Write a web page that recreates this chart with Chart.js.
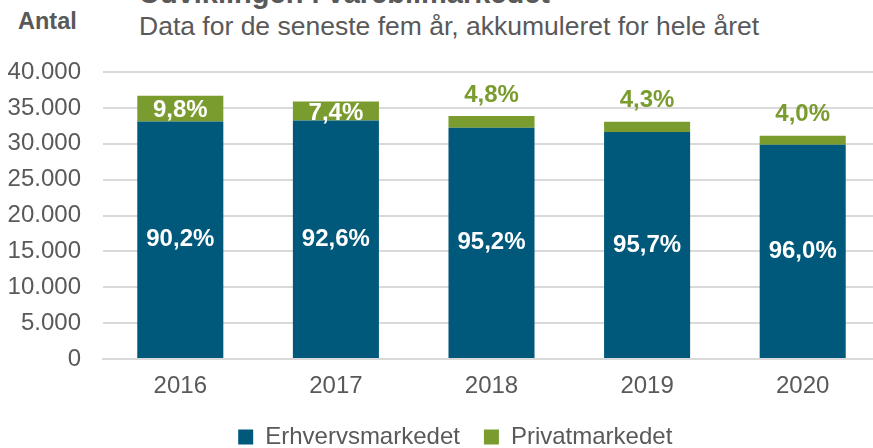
<!DOCTYPE html>
<html>
<head>
<meta charset="utf-8">
<script src="https://cdn.jsdelivr.net/npm/chart.js@4.4.0/dist/chart.umd.min.js"></script>
<style>
  html, body { margin: 0; padding: 0; width: 873px; height: 448px; overflow: hidden; background: #fff; }
  .txt { position: absolute; white-space: nowrap; line-height: 1; font-family: "Liberation Sans", Arial, sans-serif; color: #595959; }
</style>
</head>
<body>
<div class="txt" style="left:139px; top:-21px; font-size:29px; font-weight:bold;">Udviklingen i varebilmarkedet</div>
<div class="txt" style="left:18px; top:10px; font-size:23.5px; font-weight:bold;">Antal</div>
<div class="txt" style="left:139px; top:13px; font-size:26.5px;">Data for de seneste fem år, akkumuleret for hele året</div>
<canvas id="chart" width="884" height="459" style="position:absolute; left:0; top:0;"></canvas>
<script>
const years = ["2016", "2017", "2018", "2019", "2020"];
const erhverv = [33100, 33250, 32240, 31640, 29870];
const privat = [3600, 2650, 1620, 1420, 1240];
const erhvervPct = [90.2, 92.6, 95.2, 95.7, 96.0];
const privatPct = [9.8, 7.4, 4.8, 4.3, 4.0];
const yTicks = [0, 5000, 10000, 15000, 20000, 25000, 30000, 35000, 40000];

const BLUE = "#00587A";
const GREEN = "#7A9C2F";
const FONT = '"Liberation Sans", Arial, sans-serif';

Chart.defaults.font.family = FONT;
Chart.defaults.color = "#595959";

const thousands = (v) => String(v).replace(/\B(?=(\d{3})+(?!\d))/g, ".");
const pct = (p) => p.toFixed(1).replace(".", ",") + "%";

// percentage labels on top of / inside the stacked bars
const pctLabels = {
  id: "pctLabels",
  afterLayout(chart) {
    // legend sits a bit right of the canvas centre in the original
    chart.legend.left += 15;
    chart.legend.right += 15;
  },
  afterDatasetsDraw(chart) {
    const ctx = chart.ctx;
    const blue = chart.getDatasetMeta(0).data;
    const green = chart.getDatasetMeta(1).data;
    ctx.save();
    ctx.font = "bold 24px " + FONT;
    ctx.textAlign = "center";
    ctx.textBaseline = "middle";
    blue.forEach((bar, i) => {
      ctx.fillStyle = "#fff";
      ctx.fillText(pct(erhvervPct[i]), bar.x, (bar.y + bar.base) / 2);
      const g = green[i];
      if (g.base - g.y > 15) {
        ctx.fillText(pct(privatPct[i]), g.x, (g.y + g.base) / 2 + 2);
      } else {
        ctx.fillStyle = GREEN;
        ctx.fillText(pct(privatPct[i]), g.x, g.y - 21);
      }
    });
    ctx.restore();
  },
};

const ctx = document.getElementById("chart").getContext("2d");
new Chart(ctx, {
  type: "bar",
  data: {
    labels: years,
    datasets: [
      { label: "Erhvervsmarkedet", data: erhverv, backgroundColor: BLUE },
      { label: "Privatmarkedet", data: privat, backgroundColor: GREEN },
    ],
  },
  options: {
    responsive: false,
    animation: false,
    layout: { padding: { top: 72, left: 0, right: 3.5, bottom: 0 } },
    datasets: { bar: { categoryPercentage: 1, barPercentage: 0.553 } },
    scales: {
      x: {
        stacked: true,
        grid: { display: false, drawTicks: false },
        border: { color: "#D9D9D9", width: 2 },
        ticks: { padding: 13, font: { size: 24 } },
        afterFit: (s) => { s.height = 42; },
      },
      y: {
        stacked: true,
        min: yTicks[0],
        max: yTicks[yTicks.length - 1],
        afterBuildTicks: (s) => { s.ticks = yTicks.map((v) => ({ value: v })); },
        ticks: { padding: 21.5, font: { size: 24 }, callback: (v) => thousands(v) },
        grid: { color: "#D9D9D9", lineWidth: 2, drawTicks: false },
        border: { display: false },
        afterFit: (s) => { s.width = 102.5; },
      },
    },
    plugins: {
      legend: {
        position: "bottom",
        labels: { boxWidth: 15, boxHeight: 15, padding: 24, font: { size: 24 } },
      },
      tooltip: { enabled: false },
    },
  },
  plugins: [pctLabels],
});
</script>
</body>
</html>
